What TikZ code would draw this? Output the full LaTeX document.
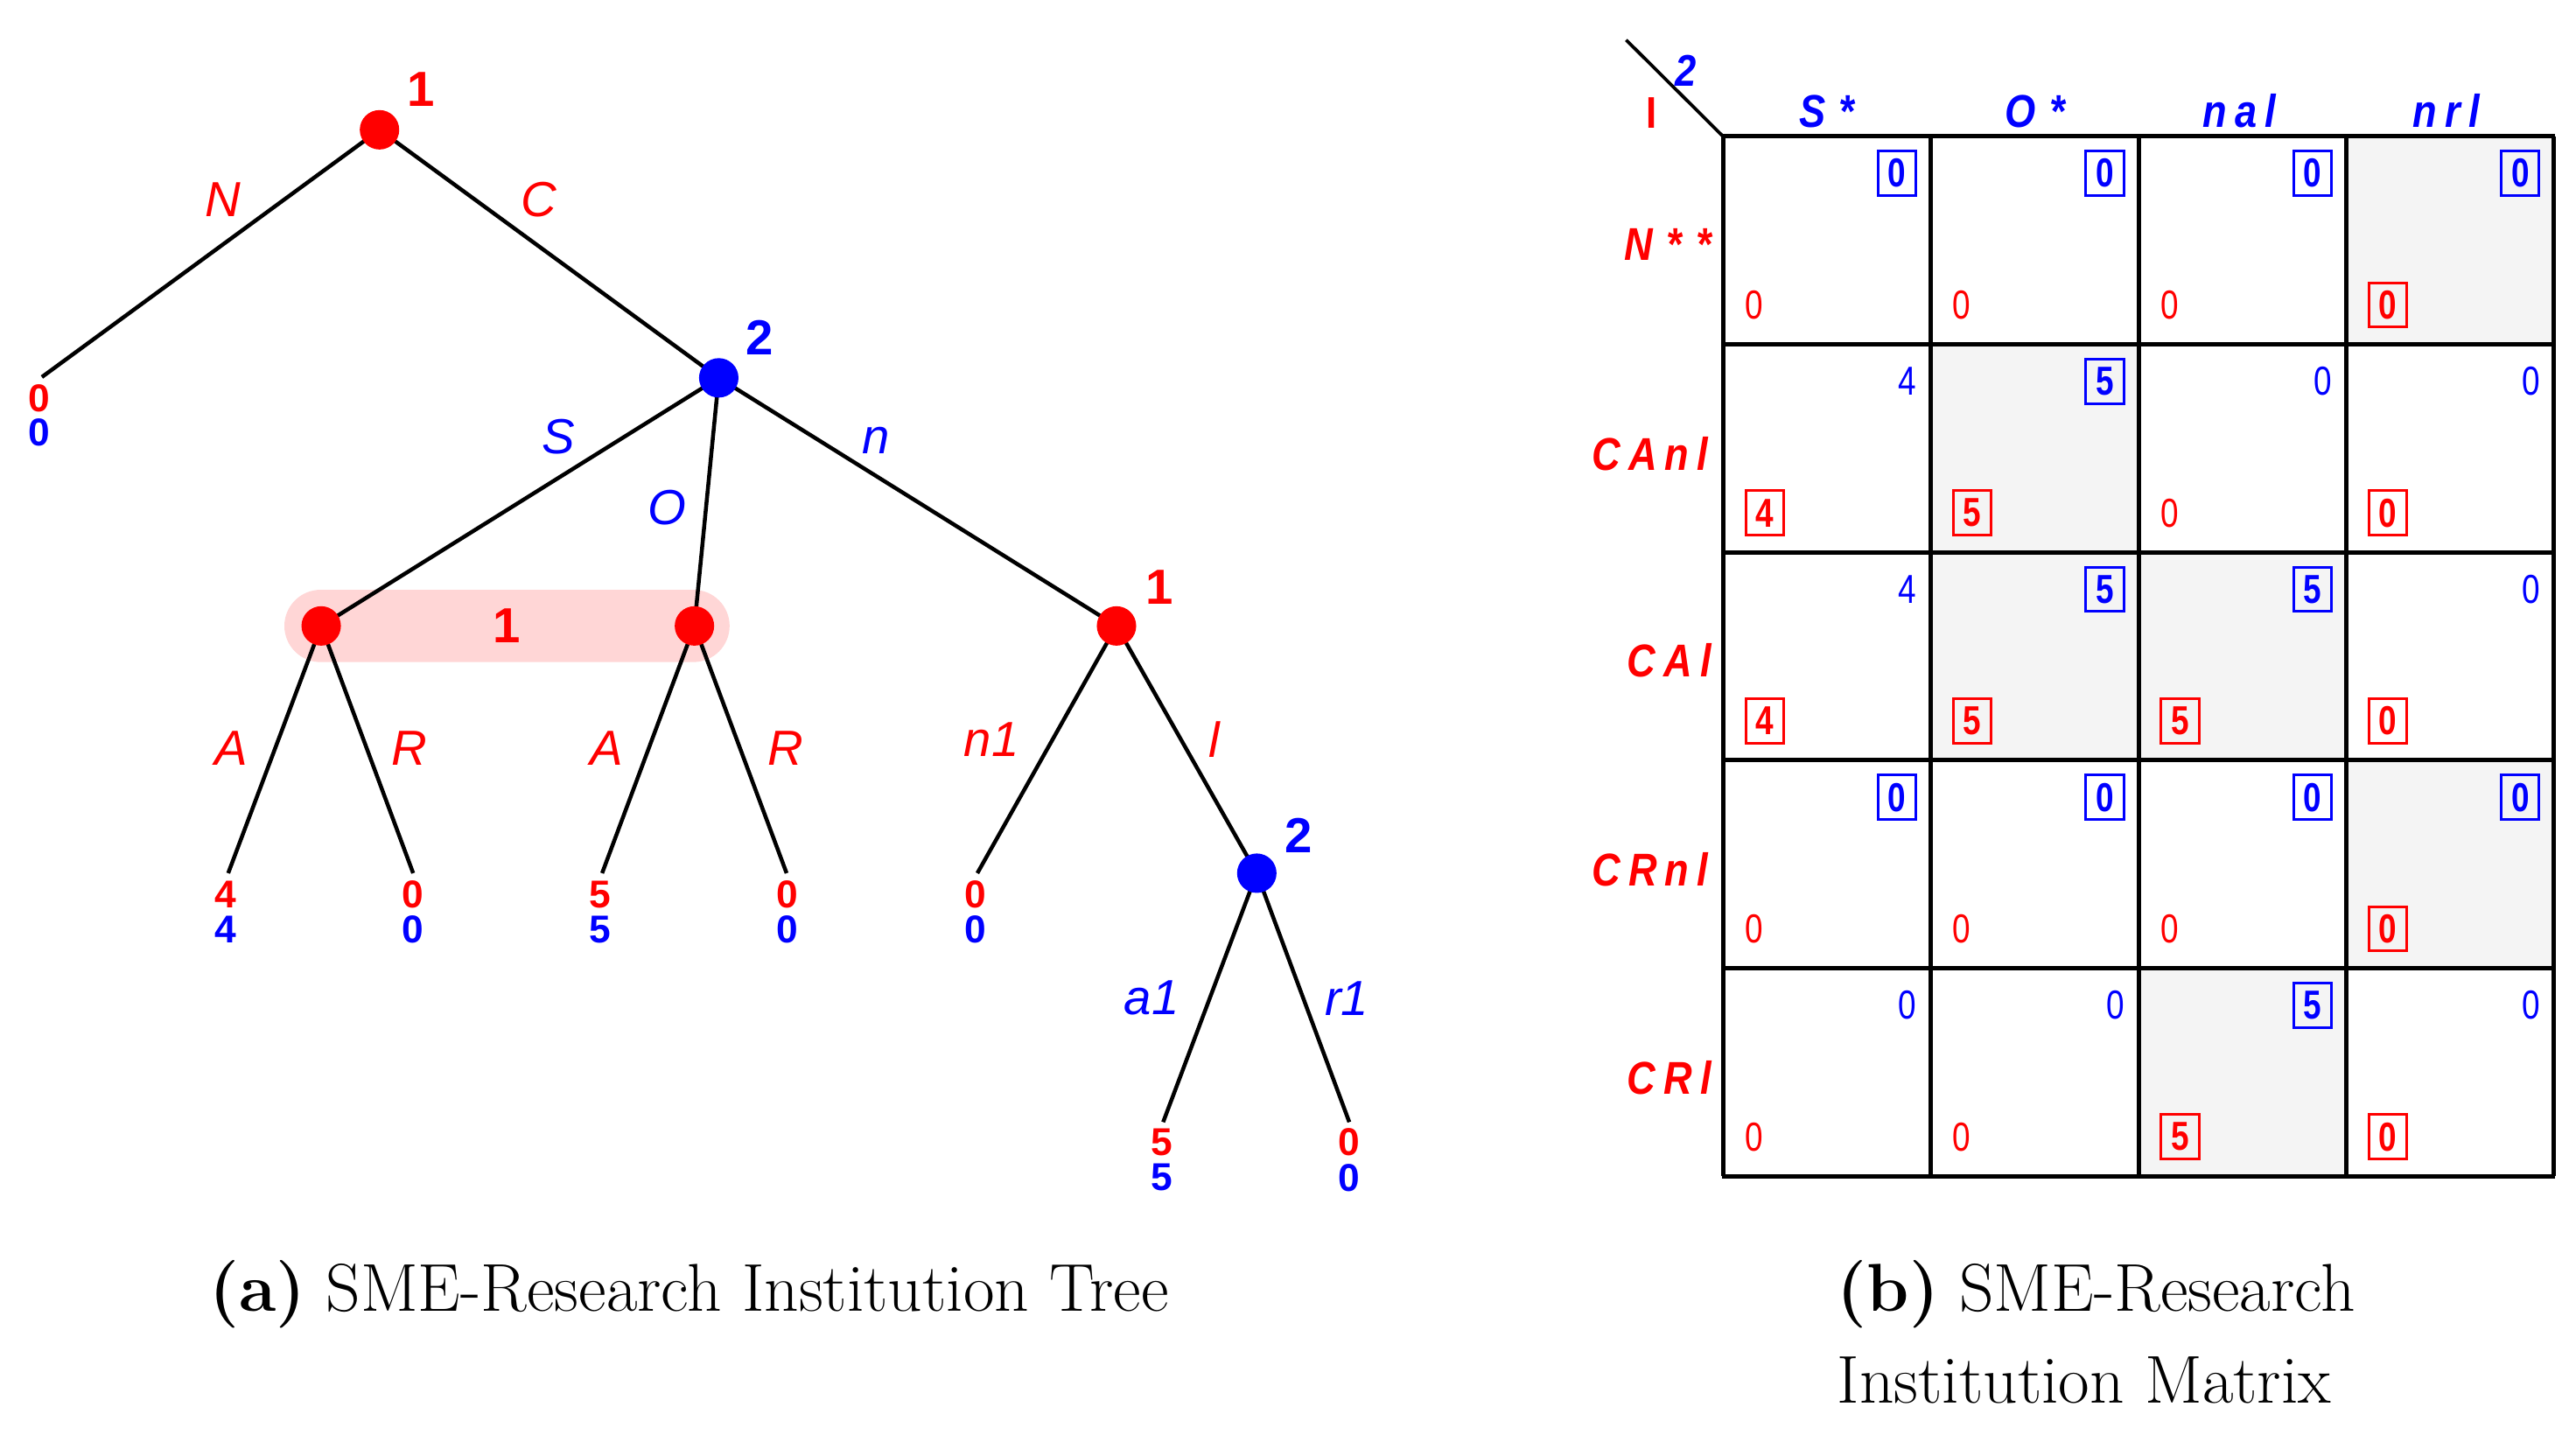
\documentclass[tikz,border=0pt]{standalone}
\usepackage{fontspec}
\newfontfamily\arial{Liberation Sans}
\newfontfamily\narrow[FakeStretch=0.8]{Liberation Sans}
\newfontfamily\hdrfont[FakeStretch=0.86]{Liberation Sans}
\definecolor{pinkset}{RGB}{255,214,214}
\definecolor{cellgray}{RGB}{244,244,244}
\newcommand{\gp}{\kern2.4pt}
\newcommand{\gs}{\kern4.2pt}
\tikzset{
  edge/.style={line width=1.2pt, black},
  rdot/.style={circle, fill=red, minimum size=12pt, inner sep=0pt},
  bdot/.style={circle, fill=blue, minimum size=12pt, inner sep=0pt},
  elabr/.style={text=red, font=\arial\itshape\fontsize{15}{17}\selectfont, inner sep=0pt},
  elabb/.style={text=blue, font=\arial\itshape\fontsize{15}{17}\selectfont, inner sep=0pt},
  plabr/.style={text=red, font=\arial\bfseries\fontsize{15}{17}\selectfont, inner sep=0pt},
  plabb/.style={text=blue, font=\arial\bfseries\fontsize{15}{17}\selectfont, inner sep=0pt},
  rpay/.style={text=red, font=\arial\bfseries\fontsize{11.8}{13}\selectfont, inner sep=0pt},
  bpay/.style={text=blue, font=\arial\bfseries\fontsize{11.8}{13}\selectfont, inner sep=0pt},
  infoset/.style={fill=pinkset, minimum width=135.5pt, minimum height=22pt, rounded corners=11pt, inner sep=0pt},
  bnum/.style={text=blue, font=\narrow\fontsize{12.3}{14}\selectfont, inner sep=0pt, anchor=east},
  bbox/.style={draw=blue, line width=0.8pt, text=blue, font=\narrow\bfseries\fontsize{12.3}{14}\selectfont, minimum width=11.5pt, minimum height=13.5pt, inner sep=0pt, anchor=east},
  rnum/.style={text=red, font=\narrow\fontsize{12.3}{14}\selectfont, inner sep=0pt, anchor=west},
  rbox/.style={draw=red, line width=0.8pt, text=red, font=\narrow\bfseries\fontsize{12.3}{14}\selectfont, minimum width=11.5pt, minimum height=13.5pt, inner sep=0pt, anchor=west},
  hdr/.style={text=blue, font=\hdrfont\bfseries\itshape\fontsize{14}{16}\selectfont, inner sep=0pt, anchor=base},
  rowlab/.style={text=red, font=\hdrfont\bfseries\itshape\fontsize{14}{16}\selectfont, inner sep=0pt, anchor=east},
  grid/.style={line width=1.35pt, black},
  caption/.style={font=\fontsize{20.6}{28}\selectfont, inner sep=0pt, anchor=base west}
}
\begin{document}
\begin{tikzpicture}[x=0.5pt, y=-0.5pt]
\useasboundingbox (0,0) rectangle (1568,873);
% ---------------- tree ----------------
\node[infoset] (iset) at (308.6,381) {};
\coordinate (n1) at (231,79);
\coordinate (lN) at (25.5,229.5);
\coordinate (n2) at (437.5,230);
\coordinate (i1) at (195.5,381);
\coordinate (i2) at (422.7,381);
\coordinate (n3) at (679.6,381);
\coordinate (n4) at (765,531.5);
\coordinate (l1) at (138.9,531.5);
\coordinate (l2) at (251.5,531.5);
\coordinate (l3) at (366.5,531.5);
\coordinate (l4) at (478.8,531.5);
\coordinate (l5) at (594.9,531.5);
\coordinate (l6) at (708,683);
\coordinate (l7) at (821.3,683);
\draw[edge] (n1) -- (lN);
\draw[edge] (n1) -- (n2);
\draw[edge] (n2) -- (i1);
\draw[edge] (n2) -- (i2);
\draw[edge] (n2) -- (n3);
\draw[edge] (i1) -- (l1);
\draw[edge] (i1) -- (l2);
\draw[edge] (i2) -- (l3);
\draw[edge] (i2) -- (l4);
\draw[edge] (n3) -- (l5);
\draw[edge] (n3) -- (n4);
\draw[edge] (n4) -- (l6);
\draw[edge] (n4) -- (l7);
\node[rdot] (d1) at (n1) {};
\node[bdot] (d2) at (n2) {};
\node[rdot] (d3) at (i1) {};
\node[rdot] (d4) at (i2) {};
\node[rdot] (d5) at (n3) {};
\node[bdot] (d6) at (n4) {};
% player labels
\node[plabr] (pl1) at (256.4,54.5) {1};
\node[plabb] (pl2) at (462.6,205.5) {2};
\node[plabr] (pl3) at (308.6,381) {1};
\node[plabr] (pl4) at (706,357.6) {1};
\node[plabb] (pl5) at (790.4,508.4) {2};
% edge labels
\node[elabr] (eN) at (135.9,121.4) {N};
\node[elabr] (eC) at (327.8,121.4) {C};
\node[elabb] (eS) at (339.7,266) {S};
\node[elabb] (eO) at (406,309) {O};
\node[elabb] (en) at (533,268) {n};
\node[elabr] (eA1) at (141,455.4) {A};
\node[elabr] (eR1) at (249.2,455.4) {R};
\node[elabr] (eA2) at (369,455.4) {A};
\node[elabr] (eR2) at (478.3,455.4) {R};
\node[elabr] (en1) at (603.5,450) {n1};
\node[elabr] (el) at (739,450) {l};
\node[elabb] (ea1) at (701,607.6) {a1};
\node[elabb] (er1) at (819.7,607.6) {r1};
% payoffs
\node[rpay] (p0r) at (23.8,242.5) {0};
\node[bpay] (p0b) at (23.8,263) {0};
\node[rpay] (p1r) at (137.5,544.6) {4};
\node[bpay] (p1b) at (137.5,566) {4};
\node[rpay] (p2r) at (251.5,544.6) {0};
\node[bpay] (p2b) at (251.5,566) {0};
\node[rpay] (p3r) at (365.5,544.6) {5};
\node[bpay] (p3b) at (365.5,566) {5};
\node[rpay] (p4r) at (479,544.6) {0};
\node[bpay] (p4b) at (479,566) {0};
\node[rpay] (p5r) at (593.5,544.6) {0};
\node[bpay] (p5b) at (593.5,566) {0};
\node[rpay] (p6r) at (707.3,695.4) {5};
\node[bpay] (p6b) at (707.3,716.8) {5};
\node[rpay] (p7r) at (821,695.4) {0};
\node[bpay] (p7b) at (821,716.8) {0};
% ---------------- matrix ----------------
\foreach \c/\r in {3/0,1/1,1/2,2/2,3/3,2/4}{
  \pgfmathsetmacro\xl{1048.8+126.45*\c}
  \pgfmathsetmacro\yt{83+126.6*\r}
  \fill[cellgray] (\xl,\yt) rectangle ++(126.45,126.6);
}
\foreach \i in {0,...,4}{
  \pgfmathsetmacro\xx{1048.8+126.45*\i}
  \draw[grid] (\xx,83) -- (\xx,716);
}
\foreach \j in {0,...,5}{
  \pgfmathsetmacro\yy{83+126.6*\j}
  \draw[grid] (1048.2,\yy) -- (1555.2,\yy);
}
\coordinate (dg1) at (989.8,24.3);
\coordinate (dg2) at (1048.8,83);
\draw[line width=1pt] (dg1) -- (dg2);
\node[text=blue, font=\hdrfont\bfseries\itshape\fontsize{13.5}{15}\selectfont, inner sep=0pt] (corner2) at (1026,43) {2};
\node[text=red, font=\hdrfont\bfseries\fontsize{13.5}{15}\selectfont, inner sep=0pt] (corner1) at (1005.5,68.5) {I};
% column headers
\node[hdr] (h1) at (1112,77.4) {S\gs*};
\node[hdr] (h2) at (1238.5,77.4) {O\gs*};
\node[hdr] (h3) at (1363,77.4) {n\gp a\gp l};
\node[hdr] (h4) at (1489,77.4) {n\gp r\gp l};
% row labels
\node[rowlab] (r1) at (1042,149) {N\gs*\gs*};
\node[rowlab] (r2) at (1040,276.5) {C\gp A\gp n\gp l};
\node[rowlab] (r3) at (1042,402) {C\gp A\gp l};
\node[rowlab] (r4) at (1040,529) {C\gp R\gp n\gp l};
\node[rowlab] (r5) at (1042,656) {C\gp R\gp l};
% cell payoffs
\foreach \c/\r/\bv/\bs/\rv/\rs in {
  0/0/0/bbox/0/rnum, 1/0/0/bbox/0/rnum, 2/0/0/bbox/0/rnum, 3/0/0/bbox/0/rbox,
  0/1/4/bnum/4/rbox, 1/1/5/bbox/5/rbox, 2/1/0/bnum/0/rnum, 3/1/0/bnum/0/rbox,
  0/2/4/bnum/4/rbox, 1/2/5/bbox/5/rbox, 2/2/5/bbox/5/rbox, 3/2/0/bnum/0/rbox,
  0/3/0/bbox/0/rnum, 1/3/0/bbox/0/rnum, 2/3/0/bbox/0/rnum, 3/3/0/bbox/0/rbox,
  0/4/0/bnum/0/rnum, 1/4/0/bnum/0/rnum, 2/4/5/bbox/5/rbox, 3/4/0/bnum/0/rbox}{
  \pgfmathsetmacro\xl{1048.8+126.45*\c}
  \pgfmathsetmacro\yt{83+126.6*\r}
  \node[\bs] (cb\c\r) at (\xl+118.2,\yt+22.5) {\bv};
  \node[\rs] (cr\c\r) at (\xl+13,\yt+126.6-24) {\rv};
}
% ---------------- captions ----------------
\node[caption] (capa) at (127,798) {\textbf{(a)} SME-Research Institution Tree};
\node[caption] (capb1) at (1118,798) {\textbf{(b)} SME-Research};
\node[caption] (capb2) at (1118,854) {Institution Matrix};
\end{tikzpicture}
\end{document}
